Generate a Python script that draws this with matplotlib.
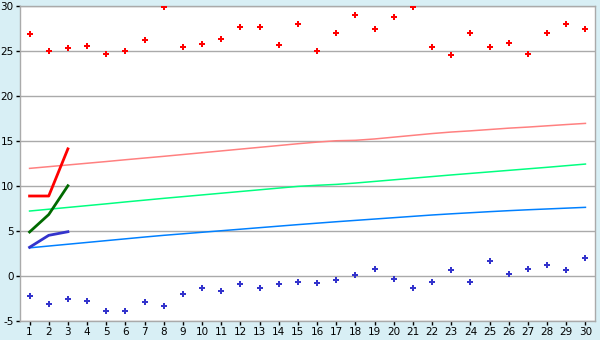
import matplotlib

matplotlib.use("AGG")
import numpy as np
import matplotlib.pyplot as plt

plt.rcParams["axes.unicode_minus"] = False

# x positions (days)
days = list(range(1, 31))

# scattered points
upper_pts = [26.9, 25.0, 25.3, 25.5, 24.6, 25.0, 26.15, 29.9, 25.4, 25.7,
             26.3, 27.6, 27.6, 25.6, 28.0, 25.0, 27.0, 29.0, 27.4, 28.7,
             29.9, 25.4, 24.5, 27.0, 25.4, 25.9, 24.6, 27.0, 28.0, 27.4]
lower_pts = [-2.2, -3.1, -2.6, -2.85, -3.95, -3.95, -2.95, -3.4, -2.05, -1.4,
             -1.75, -0.95, -1.4, -0.95, -0.75, -0.85, -0.5, 0.05, 0.8, -0.4,
             -1.4, -0.65, 0.6, -0.75, 1.6, 0.15, 0.8, 1.15, 0.6, 1.95]

# trend lines
trend_hi = [11.93, 12.12, 12.31, 12.5, 12.69, 12.89, 13.08, 13.27, 13.47, 13.67,
            13.87, 14.07, 14.27, 14.47, 14.67, 14.85, 15.0, 15.05, 15.2, 15.4,
            15.6, 15.8, 15.97, 16.1, 16.25, 16.4, 16.52, 16.66, 16.8, 16.93]
trend_mid = [7.19, 7.39, 7.59, 7.79, 7.99, 8.2, 8.4, 8.6, 8.79, 8.98,
             9.17, 9.36, 9.55, 9.74, 9.93, 10.05, 10.15, 10.3, 10.48, 10.66,
             10.84, 11.02, 11.2, 11.37, 11.54, 11.71, 11.88, 12.05, 12.23, 12.41]
trend_lo = [3.1, 3.3, 3.5, 3.7, 3.9, 4.1, 4.3, 4.49, 4.66, 4.83,
            5.0, 5.17, 5.34, 5.51, 5.68, 5.84, 6.0, 6.15, 6.3, 6.45,
            6.6, 6.75, 6.88, 7.0, 7.12, 7.23, 7.33, 7.42, 7.51, 7.6]

# short series over the first three days
short_days = [1, 2, 3]
short_red = [8.86, 8.86, 14.1]
short_green = [4.86, 6.8, 10.0]
short_blue = [3.16, 4.49, 4.89]

bg = "#d8eff5"
grid_col = "#aaaaaa"

fig = plt.figure(figsize=(6, 3.4), dpi=100, facecolor=bg)
ax = fig.add_axes([0.0333, 0.0567, 0.9584, 0.9263])
ax.set_facecolor("white")

for v in range(-5, 31, 5):
    ax.axhline(v, color=grid_col, lw=1.0, zorder=1)

ax.plot(days, trend_hi, color="#ff8080", lw=1.1, zorder=2)
ax.plot(days, trend_mid, color="#00ff80", lw=1.1, zorder=2)
ax.plot(days, trend_lo, color="#0080ff", lw=1.1, zorder=2)

ax.plot(short_days, short_red, color="#ff0000", lw=2.0, zorder=3)
ax.plot(short_days, short_green, color="#006a00", lw=2.0, zorder=3)
ax.plot(short_days, short_blue, color="#3333cc", lw=2.0, zorder=3)

ax.plot(days, upper_pts, ls="none", marker="P", ms=4.5, color="#ff0000",
        markeredgewidth=0, zorder=4)
ax.plot(days, lower_pts, ls="none", marker="P", ms=4.5, color="#3333cc",
        markeredgewidth=0, zorder=4)

ax.set_xlim(0.5, 30.5)
ax.set_ylim(-5, 30)
ax.set_xticks(days)
ax.set_yticks(range(-5, 31, 5))
ax.tick_params(axis="both", colors="black", labelsize=7.5, length=3,
               width=1, pad=1.5)
for s in ax.spines.values():
    s.set_color(grid_col)
    s.set_linewidth(1.0)

fig.savefig("out.png", dpi=100, facecolor=bg)
